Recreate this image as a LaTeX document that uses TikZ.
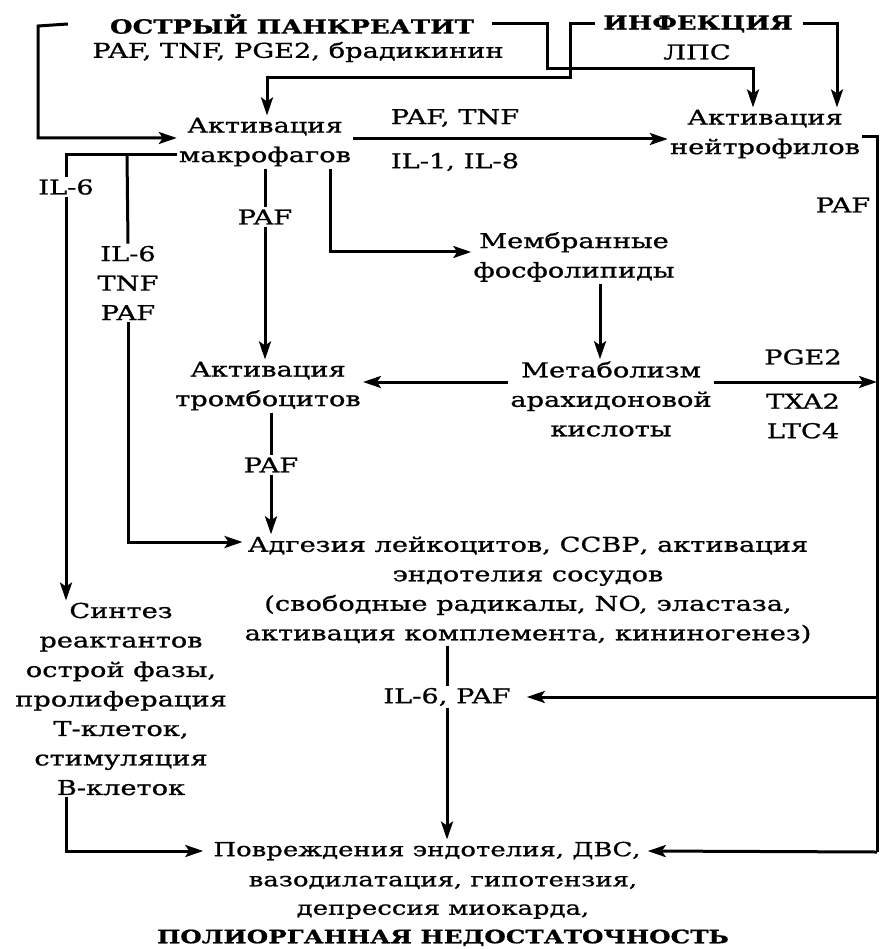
\documentclass[tikz,border=0pt]{standalone}
\usepackage{fontspec}
\setmainfont[FakeStretch=1.33,FakeBold=0.9]{DejaVu Serif}
\usetikzlibrary{arrows.meta}
\begin{document}
\begin{tikzpicture}[x=1pt,y=-1pt,
  every node/.style={inner sep=2pt, align=center, font=\fontsize{20.5}{29.5}\selectfont},
  hd/.style={font=\fontsize{19.5}{28}\selectfont\bfseries},
  low/.style={font=\fontsize{19.5}{28.5}\selectfont},
  ln/.style={line width=3pt, line cap=butt, line join=miter},
  arr/.style={ln, -{Stealth[length=18pt,width=12pt,inset=4pt]}}]
\fill[white] (0,0) rectangle (885,949);
\useasboundingbox (0,0) rectangle (885,949);

\node[hd] (pank) at (292,24) {ОСТРЫЙ ПАНКРЕАТИТ};
\node (pankl) at (298,52) {PAF, TNF, PGE2, брадикинин};
\node[hd] (inf) at (698,24) {ИНФЕКЦИЯ};
\node (lps) at (697,52) {ЛПС};
\node (macro) at (265,142) {Активация\\макрофагов};
\node (neut) at (765,134) {Активация\\нейтрофилов};
\node (paftnf) at (455,118) {PAF, TNF};
\node (il18) at (455,162) {IL-1, IL-8};
\node (il6a) at (66,187) {IL-6};
\node (il6b) at (128,283) {IL-6\\TNF\\PAF};
\node (pafa) at (265,217) {PAF};
\node (membr) at (574,257) {Мембранные\\фосфолипиды};
\node (thromb) at (268,386) {Активация\\тромбоцитов};
\node (metab) at (611,399) {Метаболизм\\арахидоновой\\кислоты};
\node (pge) at (803,357) {PGE2};
\node (txa) at (803,416) {TXA2\\LTC4};
\node (pafr) at (843,205) {PAF};
\node (pafb) at (271,465) {PAF};
\node (adh) at (528,590) {Адгезия лейкоцитов, ССВР, активация\\эндотелия сосудов\\(свободные радикалы, NO, эластаза,\\активация комплемента, кининогенез)};
\node (il6paf) at (447,697) {IL-6, PAF};
\node (synth) at (121,699) {Синтез\\реактантов\\острой фазы,\\пролиферация\\Т-клеток,\\стимуляция\\В-клеток};
\node[low] (dmg1) at (427,851) {Повреждения эндотелия, ДВС,};
\node[low] (dmg2) at (443,911) {вазодилатация, гипотензия,\\депрессия миокарда,\\{\fontsize{18.5}{28.5}\selectfont\bfseries ПОЛИОРГАННАЯ НЕДОСТАТОЧНОСТЬ}};

\coordinate (rtop) at (877,137);
\coordinate (rmid) at (877,697);
\coordinate (rbot) at (877,852);
\coordinate (j1) at (127,155);

% sources
\draw[arr] ([xshift=-40pt]pank.west) -- (38,26) -- (38,138) -- (macro.west |- 0,138);
\draw[arr] ([xshift=16pt]pank.east) -- (547,24) -- (547,69) -| (neut.north -| 753,0);
\draw[arr] ([xshift=-6pt]inf.west) -- (570,24) -- (570,78) -| (macro.north -| 267,0);
\draw[arr] ([xshift=8pt]inf.east) -- (837,24) -- (neut.north -| 837,0);

% macrophages
\draw[arr] (macro.east |- 0,139) -- (neut.west |- 0,139);
\draw[ln] (macro.west |- 0,155) -| (il6a.north);
\draw[ln] (j1) -- (il6b.north);
\draw[arr] (il6a.south) -- (il6a.south |- synth.north);
\draw[arr] (il6b.south) |- (adh.west |- 0,542);
\draw[ln] (macro.south -| pafa.north) -- (pafa.north);
\draw[arr] (pafa.south) -- (pafa.south |- thromb.north);
\draw[arr] (macro.south -| 330,0) |- (membr.west |- 0,252);

% arachidonic
\draw[arr] (membr.south -| 600,0) -- (metab.north -| 600,0);
\draw[arr] (metab.west |- 0,382) -- (thromb.east |- 0,382);
\draw[arr] (metab.east |- 0,382) -- (rtop |- 0,382);

% right line
\draw[ln] (neut.east |- rtop) -- (rtop) -- (rbot);
\draw[arr] (rbot) -- ([xshift=5pt]dmg1.east);
\draw[arr] (rmid) -- ([xshift=14pt]il6paf.east);

% platelets
\draw[ln] (pafb.north |- thromb.south) -- (pafb.north);
\draw[arr] (pafb.south) -- (pafb.south |- adh.north);

% adhesion
\draw[ln] (il6paf.north |- adh.south) -- (il6paf.north);
\draw[arr] (il6paf.south) -- (il6paf.south |- dmg1.north);

% synthesis
\draw[arr] (synth.south -| il6a.south) |- ([xshift=-8pt]dmg1.west);
\end{tikzpicture}
\end{document}
